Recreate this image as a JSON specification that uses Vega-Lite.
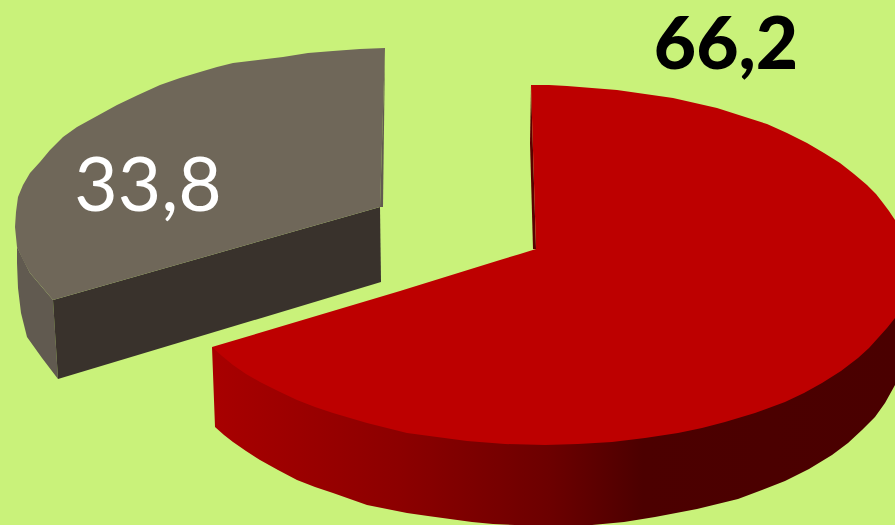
{
"$schema":"https://vega.github.io/schema/vega-lite/v6.json",
"width":895,"height":525,"padding":0,
"autosize":{"type":"fit","contains":"padding"},
"background":"#c9f27a",
"view":{"stroke":null},
"datasets":{
"greyTop":[{"i":1,"x":385,"y":48},{"i":2,"x":360,"y":49},{"i":3,"x":333,"y":51},{"i":4,"x":308,"y":53},{"i":5,"x":283,"y":57},{"i":6,"x":258,"y":60},{"i":7,"x":233,"y":63},{"i":8,"x":217,"y":67},{"i":9,"x":200,"y":72},{"i":10,"x":180,"y":78},{"i":11,"x":160,"y":85},{"i":12,"x":138,"y":95},{"i":13,"x":117,"y":105},{"i":14,"x":97,"y":116},{"i":15,"x":77,"y":127},{"i":16,"x":63,"y":137},{"i":17,"x":50,"y":150},{"i":18,"x":40,"y":162},{"i":19,"x":30,"y":173},{"i":20,"x":23,"y":185},{"i":21,"x":18,"y":197},{"i":22,"x":16,"y":212},{"i":23,"x":15,"y":227},{"i":24,"x":17,"y":247},{"i":25,"x":23,"y":260},{"i":26,"x":30,"y":273},{"i":27,"x":42,"y":287},{"i":28,"x":53,"y":300},{"i":29,"x":380,"y":207},{"i":30,"x":385,"y":48}],
"greyFront":[{"i":1,"x":53,"y":300},{"i":2,"x":380,"y":207},{"i":3,"x":381,"y":282},{"i":4,"x":58,"y":379}],
"greySide":[{"i":1,"x":17,"y":247},{"i":2,"x":17,"y":263},{"i":3,"x":18,"y":288},{"i":4,"x":21,"y":313},{"i":5,"x":27,"y":337},{"i":6,"x":42,"y":358},{"i":7,"x":58,"y":379},{"i":8,"x":53,"y":300},{"i":9,"x":30,"y":273}],
"greyEdge":[{"i":1,"x":385,"y":48},{"i":2,"x":383,"y":207},{"i":3,"x":380,"y":207}],
"redWall":[{"i":1,"x":531,"y":85},{"i":2,"x":530,"y":143},{"i":3,"x":533,"y":249},{"i":4,"x":536,"y":249}],
"redSide":[{"i":1,"x":212,"y":347},{"i":2,"x":215,"y":427},{"i":3,"x":224,"y":435},{"i":4,"x":233,"y":442},{"i":5,"x":246,"y":451},{"i":6,"x":260,"y":460},{"i":7,"x":278,"y":470},{"i":8,"x":297,"y":480},{"i":9,"x":315,"y":487},{"i":10,"x":333,"y":493},{"i":11,"x":350,"y":499},{"i":12,"x":367,"y":505},{"i":13,"x":387,"y":509},{"i":14,"x":407,"y":513},{"i":15,"x":428,"y":516},{"i":16,"x":450,"y":519},{"i":17,"x":472,"y":522},{"i":18,"x":493,"y":524},{"i":19,"x":515,"y":525},{"i":20,"x":592,"y":525},{"i":21,"x":624,"y":522},{"i":22,"x":655,"y":517},{"i":23,"x":697,"y":509},{"i":24,"x":738,"y":499},{"i":25,"x":762,"y":490},{"i":26,"x":785,"y":481},{"i":27,"x":809,"y":469},{"i":28,"x":832,"y":455},{"i":29,"x":848,"y":443},{"i":30,"x":862,"y":430},{"i":31,"x":875,"y":417},{"i":32,"x":885,"y":403},{"i":33,"x":895,"y":385},{"i":34,"x":895,"y":310},{"i":35,"x":550,"y":400}],
"redTop":[{"i":1,"x":531,"y":85},{"i":2,"x":549,"y":85},{"i":3,"x":567,"y":86},{"i":4,"x":592,"y":88},{"i":5,"x":617,"y":90},{"i":6,"x":645,"y":94},{"i":7,"x":673,"y":98},{"i":8,"x":695,"y":103},{"i":9,"x":717,"y":108},{"i":10,"x":742,"y":116},{"i":11,"x":767,"y":124},{"i":12,"x":787,"y":133},{"i":13,"x":807,"y":143},{"i":14,"x":824,"y":153},{"i":15,"x":840,"y":163},{"i":16,"x":854,"y":174},{"i":17,"x":867,"y":185},{"i":18,"x":876,"y":194},{"i":19,"x":883,"y":203},{"i":20,"x":889,"y":211},{"i":21,"x":895,"y":220},{"i":22,"x":895,"y":318},{"i":23,"x":887,"y":328},{"i":24,"x":878,"y":338},{"i":25,"x":869,"y":348},{"i":26,"x":858,"y":358},{"i":27,"x":841,"y":371},{"i":28,"x":822,"y":383},{"i":29,"x":804,"y":393},{"i":30,"x":785,"y":402},{"i":31,"x":755,"y":413},{"i":32,"x":725,"y":422},{"i":33,"x":702,"y":428},{"i":34,"x":678,"y":433},{"i":35,"x":645,"y":438},{"i":36,"x":612,"y":442},{"i":37,"x":578,"y":444},{"i":38,"x":545,"y":445},{"i":39,"x":505,"y":444},{"i":40,"x":467,"y":441},{"i":41,"x":437,"y":437},{"i":42,"x":407,"y":433},{"i":43,"x":387,"y":428},{"i":44,"x":367,"y":423},{"i":45,"x":350,"y":418},{"i":46,"x":333,"y":413},{"i":47,"x":315,"y":407},{"i":48,"x":297,"y":400},{"i":49,"x":278,"y":391},{"i":50,"x":260,"y":382},{"i":51,"x":246,"y":374},{"i":52,"x":233,"y":365},{"i":53,"x":222,"y":356},{"i":54,"x":212,"y":347},{"i":55,"x":400,"y":291},{"i":56,"x":500,"y":260},{"i":57,"x":520,"y":254},{"i":58,"x":536,"y":249}],
"labels":[{"label":"66,2","x":726,"y":69},{"label":"33,8","x":148,"y":211}]
},
"encoding":{
"x":{"field":"x","type":"quantitative","scale":{"domain":[0,895]},"axis":null},
"y":{"field":"y","type":"quantitative","scale":{"domain":[525,0]},"axis":null},
"order":{"field":"i","type":"ordinal"}
},
"layer":[
{"data":{"name":"greySide"},"mark":{"type":"line","fill":"#615a50","stroke":null,"clip":true}},
{"data":{"name":"greyFront"},"mark":{"type":"line","fill":"#39322c","stroke":null,"clip":true}},
{"data":{"name":"greyTop"},"mark":{"type":"line","fill":"#6f6759","stroke":null,"clip":true}},
{"data":{"name":"greyEdge"},"mark":{"type":"line","fill":"#615a50","stroke":null,"clip":true}},
{"data":{"name":"redWall"},"mark":{"type":"line","fill":"#5a0000","stroke":null,"clip":true}},
{"data":{"name":"redSide"},"mark":{"type":"line","stroke":null,"clip":true,"fill":{"gradient":"linear","x1":0,"y1":0,"x2":1,"y2":0,"stops":[{"offset":0,"color":"#a80000"},{"offset":0.275,"color":"#8c0000"},{"offset":0.495,"color":"#6c0000"},{"offset":0.63,"color":"#4c0000"},{"offset":1,"color":"#4a0000"}]}}},
{"data":{"name":"redTop"},"mark":{"type":"line","fill":"#bd0000","stroke":null,"clip":true}},
{"data":{"name":"labels"},"transform":[{"filter":"datum.label == '66,2'"}],"mark":{"type":"text","font":"Lato","fontWeight":900,"fontSize":73,"color":"#000000","baseline":"alphabetic","align":"center"},"encoding":{"text":{"field":"label"},"order":null}},
{"data":{"name":"labels"},"transform":[{"filter":"datum.label == '33,8'"}],"mark":{"type":"text","font":"Lato","fontWeight":400,"fontSize":75,"color":"#ffffff","baseline":"alphabetic","align":"center"},"encoding":{"text":{"field":"label"},"order":null}}
]
}
